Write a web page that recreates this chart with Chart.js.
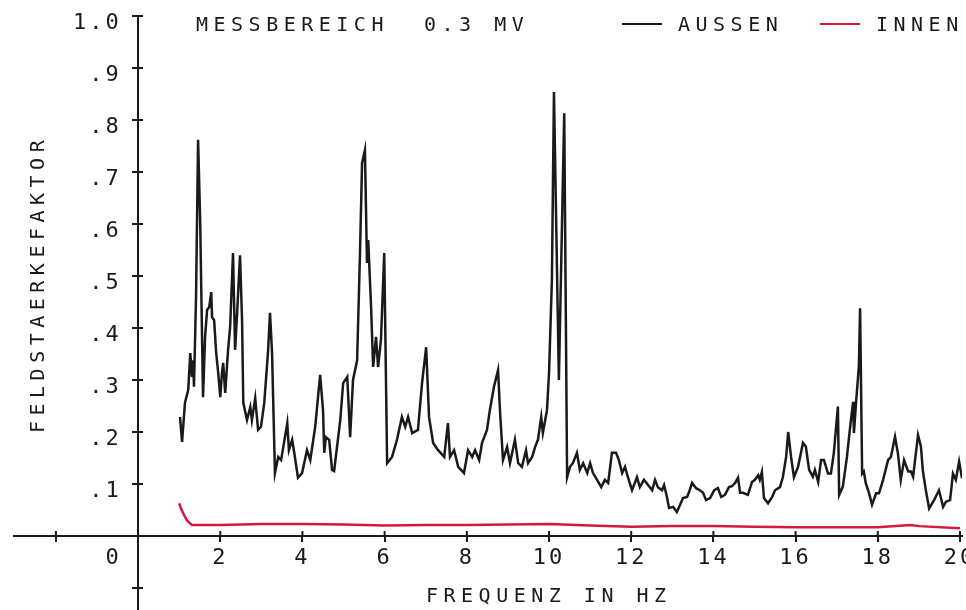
<!DOCTYPE html>
<html lang="de">
<head>
<meta charset="utf-8">
<title>Feldstaerkefaktor</title>
<script src="https://cdn.jsdelivr.net/npm/chart.js@4.4.1/dist/chart.umd.min.js"></script>
<style>
  html, body { margin: 0; padding: 0; background: #fff; }
  canvas { display: block; }
</style>
</head>
<body>
<canvas id="spektrum" width="966" height="610"></canvas>
<script>
// Messung AUSSEN: Frequenz (Hz) und Feldstaerkefaktor
const aussenHz = [
  1.02, 1.07, 1.14, 1.22, 1.27, 1.31, 1.34, 1.36, 1.41, 1.46, 1.51, 1.58, 1.63, 1.68, 1.73, 1.78, 1.80, 1.85, 1.90, 1.95,
  2.00, 2.04, 2.07, 2.12, 2.19, 2.24, 2.31, 2.36, 2.41, 2.48, 2.53, 2.56, 2.65, 2.73, 2.77, 2.85, 2.92, 2.99,
  3.07, 3.16, 3.21, 3.26, 3.33, 3.41, 3.48, 3.55, 3.63, 3.67, 3.75, 3.80, 3.89, 3.99,
  4.11, 4.19, 4.31, 4.43, 4.50, 4.53, 4.57, 4.65, 4.72, 4.77, 4.92, 4.99,
  5.09, 5.16, 5.23, 5.33, 5.40, 5.45, 5.52, 5.57, 5.60, 5.67, 5.72, 5.79, 5.84, 5.91, 5.99,
  6.06, 6.18, 6.30, 6.42, 6.50, 6.57, 6.67, 6.81, 6.91, 7.01, 7.08, 7.18, 7.30, 7.45, 7.54, 7.59, 7.69, 7.79, 7.93,
  8.03, 8.13, 8.20, 8.30, 8.37, 8.49, 8.56, 8.66, 8.76, 8.81, 8.88, 8.98, 9.05, 9.17, 9.25, 9.34, 9.44, 9.49, 9.59, 9.66, 9.73, 9.81, 9.85, 9.95,
  10.00, 10.07, 10.12, 10.24, 10.37, 10.44, 10.51, 10.58, 10.68, 10.75, 10.83, 10.93, 11.00, 11.07, 11.17, 11.27, 11.36, 11.44, 11.53, 11.63, 11.70, 11.78, 11.85, 11.92,
  12.02, 12.14, 12.21, 12.31, 12.41, 12.51, 12.58, 12.65, 12.75, 12.80, 12.87, 12.92, 13.02, 13.11, 13.19, 13.26, 13.36, 13.41, 13.48, 13.58, 13.67, 13.75, 13.82, 13.92,
  14.02, 14.11, 14.19, 14.28, 14.38, 14.45, 14.53, 14.60, 14.65, 14.72, 14.84, 14.94, 15.01, 15.09, 15.13, 15.18, 15.23, 15.33, 15.43, 15.50, 15.62, 15.69, 15.77, 15.82, 15.89, 15.96,
  16.06, 16.18, 16.25, 16.33, 16.42, 16.47, 16.55, 16.62, 16.69, 16.79, 16.86, 16.93, 17.03, 17.06, 17.15, 17.25, 17.32, 17.40, 17.42, 17.47, 17.54, 17.57, 17.62, 17.66, 17.71, 17.79, 17.86, 17.96,
  18.03, 18.13, 18.25, 18.32, 18.42, 18.49, 18.56, 18.64, 18.74, 18.81, 18.86, 18.98, 19.05, 19.10, 19.17, 19.25, 19.37, 19.49, 19.59, 19.66, 19.76, 19.83, 19.90, 19.98, 20.05
];
const aussenWert = [
  .229, .181, .256, .281, .352, .306, .338, .287, .460, .762, .608, .267, .383, .435, .440, .469, .421, .415, .352, .313,
  .267, .313, .333, .275, .358, .402, .544, .358, .429, .540, .415, .256, .223, .248, .223, .265, .204, .210,
  .256, .352, .429, .352, .121, .152, .146, .179, .217, .165, .185, .160, .112, .121,
  .165, .146, .210, .310, .242, .160, .190, .185, .127, .125, .223, .294,
  .306, .190, .300, .338, .544, .717, .742, .525, .569, .440, .325, .383, .325, .377, .544,
  .140, .152, .185, .229, .210, .229, .198, .204, .294, .363, .229, .179, .165, .152, .217, .152, .165, .133, .121,
  .165, .152, .165, .146, .179, .204, .242, .287, .319, .236, .146, .171, .140, .185, .140, .133, .165, .140, .152, .171, .185, .229, .198, .242,
  .313, .492, .854, .300, .813, .113, .133, .140, .160, .127, .140, .121, .140, .121, .108, .094, .108, .102, .160, .160, .146, .121, .133, .113,
  .088, .113, .094, .108, .098, .088, .108, .094, .088, .098, .075, .054, .056, .046, .060, .073, .075, .085, .102, .092, .088, .083, .069, .073,
  .088, .092, .075, .079, .094, .096, .102, .112, .083, .083, .079, .104, .108, .117, .108, .123, .073, .063, .075, .088, .094, .113, .152, .200, .152, .113,
  .133, .179, .172, .127, .114, .127, .104, .146, .146, .120, .120, .159, .249, .079, .095, .152, .204, .258, .198, .255, .326, .438, .120, .124, .101, .082, .060, .082,
  .082, .108, .146, .152, .191, .159, .108, .146, .124, .124, .114, .194, .172, .124, .088, .053, .069, .088, .056, .066, .069, .120, .108, .143, .111
];

// Messung INNEN
const innenHz = [1.00, 1.05, 1.12, 1.19, 1.31, 2, 3, 4, 5, 6, 7, 8, 9, 10, 11, 12, 13, 14, 15, 16, 17, 18, 18.8, 19, 20];
const innenWert = [.063, .052, .040, .030, .021, .021, .023, .023, .022, .020, .021, .021, .022, .023, .020, .018, .019, .019, .018, .017, .017, .017, .021, .019, .015];

const titel = 'MESSBEREICH  0.3 MV';
const xTitel = 'FREQUENZ IN HZ';
const yTitel = 'FELDSTAERKEFAKTOR';

const schrift = '"DejaVu Sans Mono", monospace';
const tinte = '#1a1a1a';
const rot = '#d41a3c';

function punkte(xs, ys) {
    return xs.map((x, i) => ({ x: x, y: ys[i] }));
}

// Achsen liegen im Zeichenbereich, daher keinen Rand fuer die Beschriftung reservieren
function ohneRand(scale) {
    scale.paddingLeft = scale.paddingRight = scale.paddingTop = scale.paddingBottom = 0;
}

// etwas gesperrte Plotterschrift fuer die Achsenzahlen
const sperrung = {
    id: 'sperrung',
    beforeDraw(chart) {
        chart.ctx.letterSpacing = '3px';
    }
};

// Teilstriche auf der Gegenseite der Achsen ergaenzen
const kreuzStriche = {
    id: 'kreuzStriche',
    afterDraw(chart) {
        const ctx = chart.ctx;
        const sx = chart.scales.x;
        const sy = chart.scales.y;
        const x0 = sx.getPixelForValue(0);
        const y0 = sy.getPixelForValue(0);
        ctx.save();
        ctx.strokeStyle = tinte;
        ctx.lineWidth = 2;
        ctx.beginPath();
        sx.ticks.forEach(t => {
            const px = sx.getPixelForValue(t.value);
            ctx.moveTo(px, y0);
            ctx.lineTo(px, y0 - 5);
        });
        sy.ticks.forEach(t => {
            const py = sy.getPixelForValue(t.value);
            ctx.moveTo(x0, py);
            ctx.lineTo(x0 + 5, py);
        });
        ctx.stroke();
        ctx.restore();
    }
};

// Kopfzeile, Legende und Achsentitel
const beschriftung = {
    id: 'beschriftung',
    afterDraw(chart) {
        const ctx = chart.ctx;
        ctx.save();
        ctx.fillStyle = tinte;
        ctx.font = '20px ' + schrift;
        ctx.letterSpacing = '5.5px';
        ctx.textBaseline = 'alphabetic';
        ctx.textAlign = 'left';
        ctx.fillText(titel, 196, 31);

        const legX = [622, 820];
        chart.data.datasets.forEach((ds, i) => {
            ctx.strokeStyle = ds.borderColor;
            ctx.lineWidth = 2;
            ctx.beginPath();
            ctx.moveTo(legX[i], 24);
            ctx.lineTo(legX[i] + 40, 24);
            ctx.stroke();
            ctx.fillText(ds.label, legX[i] + 56, 31);
        });

        ctx.fillText(xTitel, 426, 602);

        ctx.translate(44, 433);
        ctx.rotate(-Math.PI / 2);
        ctx.fillText(yTitel, 0, 0);
        ctx.restore();
    }
};

const ctx = document.getElementById('spektrum').getContext('2d');
new Chart(ctx, {
    type: 'line',
    data: {
        datasets: [{
            label: 'AUSSEN',
            data: punkte(aussenHz, aussenWert),
            borderColor: tinte,
            borderWidth: 2.5,
            pointRadius: 0,
            tension: 0
        }, {
            label: 'INNEN',
            data: punkte(innenHz, innenWert),
            borderColor: rot,
            borderWidth: 2.5,
            pointRadius: 0,
            tension: 0
        }]
    },
    options: {
        responsive: false,
        animation: false,
        devicePixelRatio: 1,
        layout: { padding: { left: 14, right: 4, top: 16, bottom: 0 } },
        plugins: {
            legend: { display: false },
            title: { display: false },
            tooltip: { enabled: false }
        },
        scales: {
            x: {
                type: 'linear',
                position: { y: 0 },
                min: -3.02,
                max: 20.05,
                afterFit: ohneRand,
                border: { color: tinte, width: 2 },
                grid: { drawOnChartArea: false, color: tinte, lineWidth: 2, tickLength: 5 },
                ticks: {
                    stepSize: 2,
                    includeBounds: false,
                    autoSkip: false,
                    maxRotation: 0,
                    padding: 4,
                    color: tinte,
                    font: { family: schrift, size: 22 },
                    // die Null links neben die senkrechte Achse ruecken
                    callback: v => v < 0 ? '' : (v === 0 ? '0   ' : String(v))
                }
            },
            y: {
                type: 'linear',
                position: { x: 0 },
                min: -0.1423,
                max: 1.0,
                afterFit: ohneRand,
                border: { color: tinte, width: 2 },
                grid: { drawOnChartArea: false, color: tinte, lineWidth: 2, tickLength: 5 },
                ticks: {
                    stepSize: 0.1,
                    includeBounds: false,
                    autoSkip: false,
                    labelOffset: 7,
                    color: tinte,
                    font: { family: schrift, size: 22 },
                    // rechtsbuendig an der Achse, das Leerzeichen haelt Abstand zum Teilstrich
                    callback: v => {
                        const n = Math.round(v * 10);
                        if (n === 10) return '1.0 ';
                        return n > 0 ? '.' + n + ' ' : '';
                    }
                }
            }
        }
    },
    plugins: [sperrung, kreuzStriche, beschriftung]
});
</script>
</body>
</html>
